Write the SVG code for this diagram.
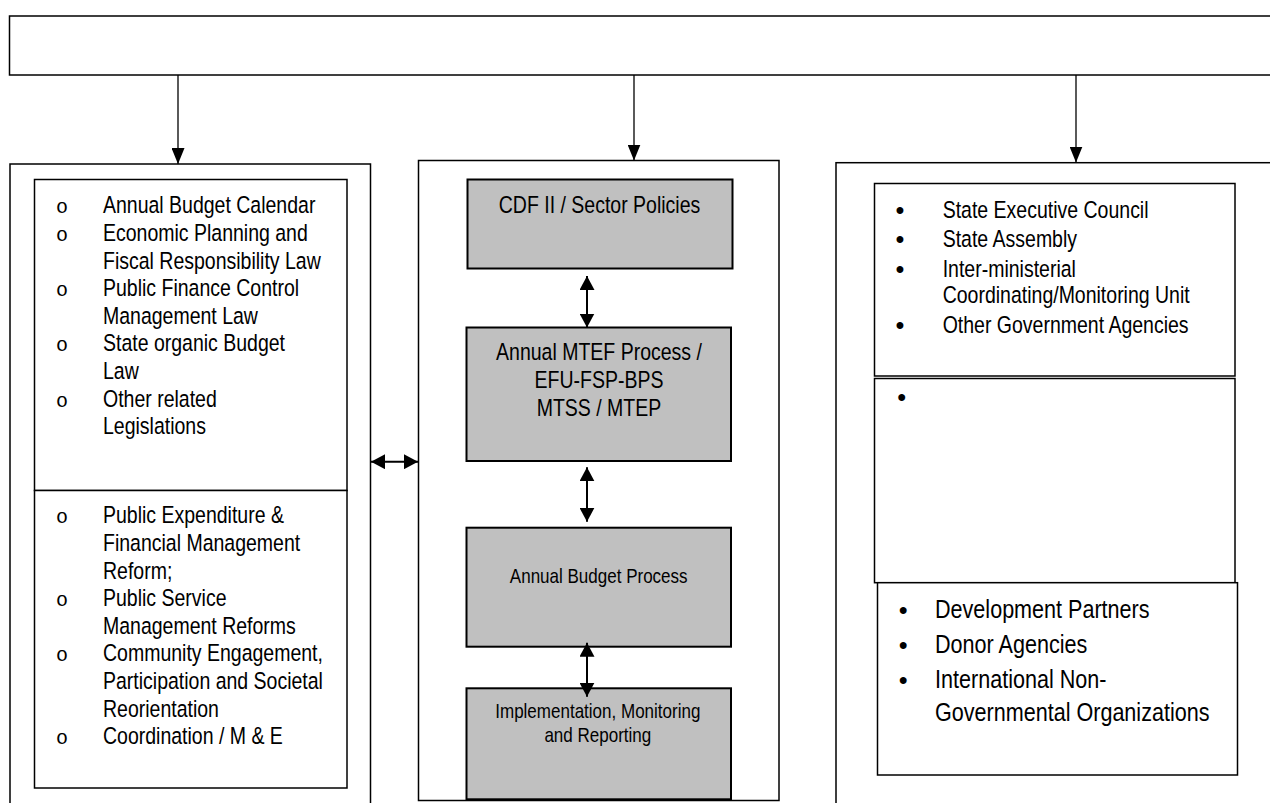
<svg xmlns="http://www.w3.org/2000/svg" width="1270" height="803" viewBox="0 0 1270 803">
<style>
.box{fill:#fff;stroke:#000;stroke-width:1.5}
.gray{fill:#c0c0c0;stroke:#000;stroke-width:2}
.t{font-family:"Liberation Sans",Arial,sans-serif;font-size:23.5px;fill:#000}
.s{font-size:20.5px}
.l{font-size:26px}
.c{text-anchor:middle}
.ob{font-family:"Liberation Mono","Courier New",monospace;font-size:20px;text-anchor:middle;fill:#000}
.db{font-family:"Liberation Sans",Arial,sans-serif;font-size:24px;font-weight:bold;text-anchor:middle;fill:#000}
.conn{stroke:#000;fill:none}
</style>
<defs>
<marker id="down" viewBox="0 0 16 13" refX="16" refY="6.5" markerWidth="16" markerHeight="13" markerUnits="userSpaceOnUse" orient="auto">
<path d="M0,0 L16,6.5 L0,13 z" fill="#000"/>
</marker>
<marker id="dbl" viewBox="0 0 14 15" refX="14" refY="7.5" markerWidth="14" markerHeight="15" markerUnits="userSpaceOnUse" orient="auto-start-reverse">
<path d="M0,0 L14,7.5 L0,15 z" fill="#000"/>
</marker>
</defs>

<g id="top">
<rect class="box" x="9.5" y="16" width="1270" height="59" stroke-width="2"/>
</g>

<g id="left">
<rect class="box" x="10" y="164" width="360.5" height="650"/>
<rect class="box" x="34.5" y="179.5" width="312.5" height="311"/>
<rect class="box" x="34.5" y="490.5" width="312.5" height="297.5"/>
<text class="ob" x="62" y="213.3">o</text>
<text class="ob" x="62" y="240.9">o</text>
<text class="ob" x="62" y="296.1">o</text>
<text class="ob" x="62" y="351.3">o</text>
<text class="ob" x="62" y="406.5">o</text>
<text class="t" transform="translate(103 213.3) scale(0.83 1)">Annual Budget Calendar</text>
<text class="t" transform="translate(103 240.9) scale(0.83 1)">Economic Planning and</text>
<text class="t" transform="translate(103 268.5) scale(0.83 1)">Fiscal Responsibility Law</text>
<text class="t" transform="translate(103 296.1) scale(0.83 1)">Public Finance Control</text>
<text class="t" transform="translate(103 323.7) scale(0.83 1)">Management Law</text>
<text class="t" transform="translate(103 351.3) scale(0.83 1)">State organic Budget</text>
<text class="t" transform="translate(103 378.9) scale(0.83 1)">Law</text>
<text class="t" transform="translate(103 406.5) scale(0.83 1)">Other related</text>
<text class="t" transform="translate(103 434.1) scale(0.83 1)">Legislations</text>
<text class="ob" x="62" y="523.3">o</text>
<text class="ob" x="62" y="606.1">o</text>
<text class="ob" x="62" y="661.3">o</text>
<text class="ob" x="62" y="744.1">o</text>
<text class="t" transform="translate(103 523.3) scale(0.83 1)">Public Expenditure &amp;</text>
<text class="t" transform="translate(103 550.9) scale(0.83 1)">Financial Management</text>
<text class="t" transform="translate(103 578.5) scale(0.83 1)">Reform;</text>
<text class="t" transform="translate(103 606.1) scale(0.83 1)">Public Service</text>
<text class="t" transform="translate(103 633.7) scale(0.83 1)">Management Reforms</text>
<text class="t" transform="translate(103 661.3) scale(0.83 1)">Community Engagement,</text>
<text class="t" transform="translate(103 688.9) scale(0.83 1)">Participation and Societal</text>
<text class="t" transform="translate(103 716.5) scale(0.83 1)">Reorientation</text>
<text class="t" transform="translate(103 744.1) scale(0.83 1)">Coordination / M &amp; E</text>
</g>

<g id="middle">
<rect class="box" x="418.5" y="160.5" width="360.5" height="640"/>
</g>
<g id="cdf">
<rect class="gray" x="467.5" y="179.5" width="265" height="89"/>
<text class="t c" transform="translate(599.5 212.7) scale(0.83 1)">CDF II / Sector Policies</text>
</g>
<g id="mtef">
<rect class="gray" x="466.5" y="327.5" width="264.5" height="133.5"/>
<text class="t c" transform="translate(599 359.5) scale(0.83 1)">Annual MTEF Process /</text>
<text class="t c" transform="translate(599 387.5) scale(0.83 1)">EFU-FSP-BPS</text>
<text class="t c" transform="translate(599 415.5) scale(0.83 1)">MTSS / MTEP</text>
</g>
<g id="budget">
<rect class="gray" x="466.5" y="527.7" width="264.5" height="119"/>
<text class="t s c" transform="translate(598.7 582.7) scale(0.83 1)">Annual Budget Process</text>
</g>
<g id="impl">
<rect class="gray" x="466.5" y="688.3" width="264.5" height="111"/>
<text class="t s c" transform="translate(597.8 717.7) scale(0.83 1)">Implementation, Monitoring</text>
<text class="t s c" transform="translate(597.8 741.7) scale(0.83 1)">and Reporting</text>
</g>

<g id="right">
<rect class="box" x="836" y="162.7" width="450" height="660" stroke-width="2"/>
<rect class="box" x="874.5" y="183.5" width="360.5" height="192.5"/>
<rect class="box" x="874.5" y="378.5" width="360.5" height="204.2"/>
<rect class="box" x="877.5" y="582.7" width="360" height="192.3"/>
<text class="db" x="900" y="217.7">•</text>
<text class="db" x="900" y="247.3">•</text>
<text class="db" x="900" y="276.7">•</text>
<text class="db" x="900" y="332.7">•</text>
<text class="t" transform="translate(942.7 217.7) scale(0.83 1)">State Executive Council</text>
<text class="t" transform="translate(942.7 247.3) scale(0.83 1)">State Assembly</text>
<text class="t" transform="translate(942.7 276.7) scale(0.83 1)">Inter-ministerial</text>
<text class="t" transform="translate(942.7 303.3) scale(0.83 1)">Coordinating/Monitoring Unit</text>
<text class="t" transform="translate(942.7 332.7) scale(0.83 1)">Other Government Agencies</text>
<text class="db" x="901.7" y="404.5">•</text>
<text class="db" x="903.3" y="618.3">•</text>
<text class="db" x="903.3" y="653.3">•</text>
<text class="db" x="903.3" y="688.3">•</text>
<text class="t l" transform="translate(935 618.3) scale(0.83 1)">Development Partners</text>
<text class="t l" transform="translate(935 653.3) scale(0.83 1)">Donor Agencies</text>
<text class="t l" transform="translate(935 688.3) scale(0.83 1)">International Non-</text>
<text class="t l" transform="translate(935 721) scale(0.83 1)">Governmental Organizations</text>
</g>

<g id="connectors">
<line class="conn" x1="178" y1="75" x2="178" y2="164" stroke-width="1.3" marker-end="url(#down)"/>
<line class="conn" x1="634" y1="75" x2="634" y2="160.5" stroke-width="1.3" marker-end="url(#down)"/>
<line class="conn" x1="1076" y1="75" x2="1076" y2="162.5" stroke-width="1.3" marker-end="url(#down)"/>
<line class="conn" x1="371" y1="461.7" x2="418" y2="461.7" stroke-width="2" marker-start="url(#dbl)" marker-end="url(#dbl)"/>
<line class="conn" x1="587" y1="276" x2="587" y2="327.5" stroke-width="2" marker-start="url(#dbl)" marker-end="url(#dbl)"/>
<line class="conn" x1="587" y1="467.3" x2="587" y2="521.7" stroke-width="2" marker-start="url(#dbl)" marker-end="url(#dbl)"/>
<line class="conn" x1="587" y1="642.7" x2="587" y2="696.7" stroke-width="2" marker-start="url(#dbl)" marker-end="url(#dbl)"/>
</g>
</svg>
